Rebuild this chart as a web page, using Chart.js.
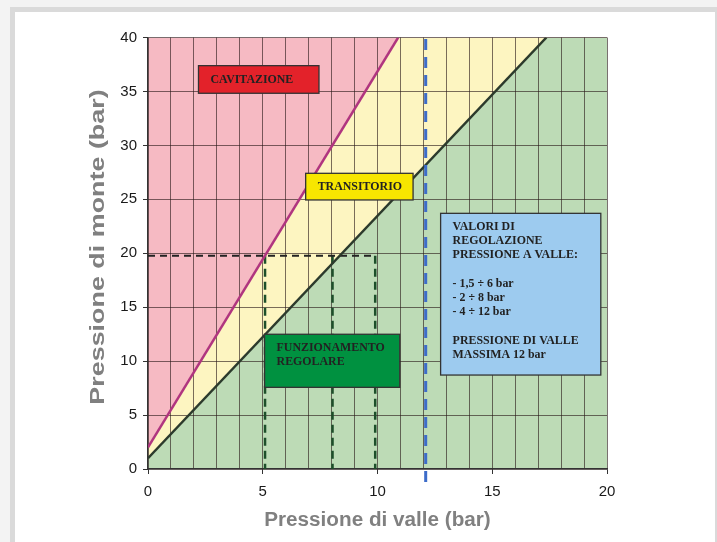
<!DOCTYPE html>
<html>
<head>
<meta charset="utf-8">
<script src="https://cdn.jsdelivr.net/npm/chart.js@4.4.1/dist/chart.umd.min.js"></script>
<style>
  html, body { margin: 0; padding: 0; background: #f3f3f3; }
  body { width: 717px; height: 542px; position: relative; overflow: hidden; }
  #panel { position: absolute; left: 10px; top: 7px; width: 710px; height: 600px; box-sizing: border-box; border: 5px solid #dadada; background: #fff; }
  #chart { position: absolute; left: 0; top: 0; }
</style>
</head>
<body>
<div id="panel"></div>
<canvas id="chart" width="717" height="542"></canvas>
<script>
// Limiti degli assi (bar)
const valleLimiti = [0, 20];
const monteLimiti = [0, 40];

// Linea di cavitazione
const cavitazioneValle = [0, 10.9];
const cavitazioneMonte = [2, 40];

// Limite del funzionamento regolare
const regolareValle = [0, 17.36];
const regolareMonte = [1, 40];

// Pressione di valle massima (linea blu)
const valleMassima = 12.1;
const valleMassimaMonte = [-1.2, 40.45];

// Esempio di lettura (linee tratteggiate)
const monteEsempio = 19.77;
const valleEsempio = [5.1, 8.04, 9.9];

// Titoli e testi dei riquadri
const titoloValle = 'Pressione di valle (bar)';
const titoloMonte = 'Pressione di monte (bar)';
const testoCavitazione = ['CAVITAZIONE'];
const testoTransitorio = ['TRANSITORIO'];
const testoRegolare = ['FUNZIONAMENTO', 'REGOLARE'];
const testoValori = ['VALORI DI', 'REGOLAZIONE', 'PRESSIONE A VALLE:', '', '- 1,5 \u00f7 6 bar', '- 2 \u00f7 8 bar', '- 4 \u00f7 12 bar', '', 'PRESSIONE DI VALLE', 'MASSIMA 12 bar'];

const pts = (xs, ys) => xs.map((x, i) => ({ x: x, y: ys[i] }));

const fillDs = (data, color, order) => ({
    data: data,
    fill: 'origin',
    backgroundColor: color,
    borderWidth: 0,
    borderColor: 'transparent',
    pointRadius: 0,
    order: order
});

const dashDs = (data, color, width, dash, order) => ({
    data: data,
    fill: false,
    borderColor: color,
    borderWidth: width,
    borderDash: dash,
    pointRadius: 0,
    order: order
});

const datasets = [
    // linee principali
    { data: pts(cavitazioneValle, cavitazioneMonte), borderColor: '#b0357f', borderWidth: 2.5, pointRadius: 0, fill: false, order: 1 },
    { data: pts(regolareValle, regolareMonte), borderColor: '#2c3a2c', borderWidth: 2.5, pointRadius: 0, fill: false, order: 1 },
    // esempio di lettura
    dashDs(pts([0, valleEsempio[2]], [monteEsempio, monteEsempio]), '#222', 2, [7, 5], 2),
    ...valleEsempio.map(v => dashDs(pts([v, v], [monteEsempio, monteLimiti[0]]), '#1d4f2a', 2.5, [8, 5], 2)),
    // pressione massima di valle
    Object.assign(dashDs(pts([valleMassima, valleMassima], valleMassimaMonte), '#3d6cc9', 3, [11, 7], 0), { clip: false }),
    // zone colorate
    fillDs(pts([...regolareValle, valleLimiti[1]], [...regolareMonte, monteLimiti[1]]), '#bddbb6', 10),
    fillDs(pts([...cavitazioneValle, valleLimiti[1]], [...cavitazioneMonte, monteLimiti[1]]), '#fdf5c1', 11),
    fillDs(pts(valleLimiti, [monteLimiti[1], monteLimiti[1]]), '#f6bac3', 12)
];

// Riquadri di testo (coordinate in bar)
const riquadri = [
    { righe: testoCavitazione, x0: 2.2, x1: 7.45, y0: 37.39, y1: 34.83, fondo: '#e3222a', centrato: true },
    { righe: testoTransitorio, x0: 6.87, x1: 11.55, y0: 27.41, y1: 24.94, fondo: '#f7e600', centrato: true },
    { righe: testoRegolare, x0: 5.08, x1: 10.97, y0: 12.49, y1: 7.57, fondo: '#009140', centrato: false },
    { righe: testoValori, x0: 12.75, x1: 19.73, y0: 23.70, y1: 8.71, fondo: '#9dcbef', centrato: false }
];

const riquadriPlugin = {
    id: 'riquadri',
    afterDatasetsDraw(chart) {
        const { ctx, scales: { x, y } } = chart;
        ctx.save();
        riquadri.forEach(r => {
            const left = x.getPixelForValue(r.x0), right = x.getPixelForValue(r.x1);
            const top = y.getPixelForValue(r.y0), bottom = y.getPixelForValue(r.y1);
            ctx.fillStyle = r.fondo;
            ctx.fillRect(left, top, right - left, bottom - top);
            ctx.strokeStyle = '#333';
            ctx.lineWidth = 1.3;
            ctx.strokeRect(left, top, right - left, bottom - top);
            ctx.fillStyle = '#222';
            ctx.font = 'bold 11.9px "Liberation Serif", "Times New Roman", serif';
            ctx.textBaseline = 'middle';
            ctx.textAlign = 'left';
            r.righe.forEach((t, i) => {
                const cy = r.centrato ? (top + bottom) / 2 : top + 13.5 + i * 14.2;
                ctx.fillText(t, left + 12, cy);
            });
        });
        ctx.restore();
    }
};

// Titolo asse verticale, allungato come nell'originale
const titoloMontePlugin = {
    id: 'titoloMonte',
    afterDraw(chart) {
        const { ctx, chartArea } = chart;
        ctx.save();
        ctx.translate(98.5, 247);
        ctx.rotate(-Math.PI / 2);
        ctx.scale(1.3, 1);
        ctx.font = 'bold 20.7px "Liberation Sans", Arial, sans-serif';
        ctx.fillStyle = '#808080';
        ctx.textAlign = 'center';
        ctx.textBaseline = 'middle';
        ctx.fillText(titoloMonte, 0, 0);
        ctx.restore();
    }
};

new Chart(document.getElementById('chart'), {
    type: 'line',
    data: { datasets: datasets },
    options: {
        responsive: false,
        animation: false,
        layout: { padding: { left: 82, top: 37.5, right: 110, bottom: 0 } },
        plugins: {
            legend: { display: false },
            tooltip: { enabled: false },
            filler: { drawTime: 'beforeDraw' }
        },
        scales: {
            x: {
                type: 'linear',
                min: valleLimiti[0],
                max: valleLimiti[1],
                afterFit: s => { s.height = 73; },
                ticks: {
                    stepSize: 1,
                    autoSkip: false,
                    maxRotation: 0,
                    padding: 9,
                    color: '#1a1a1a',
                    font: { family: '"Liberation Sans", Arial, sans-serif', size: 15 },
                    callback: v => (v % 5 === 0 ? v : '')
                },
                grid: {
                    color: 'rgba(40, 25, 25, 0.62)',
                    lineWidth: 1,
                    tickLength: 5,
                    tickColor: c => (c.tick && c.tick.value % 5 === 0 ? '#333' : 'rgba(0,0,0,0)')
                },
                border: { color: '#333', width: 1.2 },
                title: {
                    display: true,
                    text: titoloValle,
                    color: '#808080',
                    font: { family: '"Liberation Sans", Arial, sans-serif', size: 20.7, weight: 'bold' },
                    padding: { top: 4, bottom: 9 }
                }
            },
            y: {
                min: monteLimiti[0],
                max: monteLimiti[1],
                afterFit: s => { s.width = 66; },
                ticks: {
                    stepSize: 5,
                    padding: 6,
                    color: '#1a1a1a',
                    font: { family: '"Liberation Sans", Arial, sans-serif', size: 15 }
                },
                grid: {
                    color: 'rgba(40, 25, 25, 0.62)',
                    lineWidth: 1,
                    tickLength: 5,
                    tickColor: '#333'
                },
                border: { color: '#333', width: 1.2 },
                title: { display: false }
            }
        }
    },
    plugins: [riquadriPlugin, titoloMontePlugin]
});
</script>
</body>
</html>
